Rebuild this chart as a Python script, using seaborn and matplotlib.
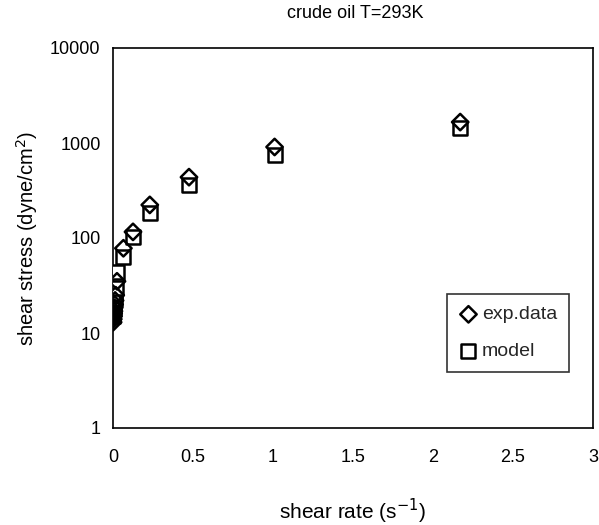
import matplotlib
matplotlib.use("Agg")
import matplotlib.pyplot as plt
import seaborn as sns
import pandas as pd
from matplotlib.ticker import FixedLocator, NullLocator, FuncFormatter

sns.set_theme(style="white")
plt.rcParams["font.family"] = ["Liberation Sans", "DejaVu Sans"]

# shear rate (1/s) and shear stress (dyne/cm^2) for crude oil at 293 K
shear_rate = [0.001, 0.002, 0.003, 0.004, 0.006, 0.008, 0.010, 0.013, 0.017,
              0.025, 0.065, 0.125, 0.23, 0.475, 1.01, 2.17]
stress_exp = [13, 14, 15, 16, 17, 18.5, 20, 22, 25,
              35, 78, 116, 223, 437, 908, 1660]
stress_model = [15, 16, 17, 18, 19.5, 21, 23, 26, 30,
                44, 63, 102, 183, 362, 750, 1440]

df_exp = pd.DataFrame({"rate": shear_rate, "stress": stress_exp})
df_mod = pd.DataFrame({"rate": shear_rate, "stress": stress_model})

fig = plt.figure(figsize=(5.99, 5.25), dpi=100)
ax = fig.add_axes([113 / 599, 1 - 428 / 525, 480 / 599, 380 / 525])

sns.scatterplot(data=df_mod, x="rate", y="stress", ax=ax, marker="s", s=90,
                facecolor="white", edgecolor="black", linewidth=1.8,
                label="model", zorder=3)
sns.scatterplot(data=df_exp, x="rate", y="stress", ax=ax, marker="D", s=70,
                facecolor="none", edgecolor="black", linewidth=1.8,
                label="exp.data", zorder=4)

ax.set_yscale("log")
ax.set_xlim(0, 3)
ax.set_ylim(1, 10000)
ax.xaxis.set_major_locator(FixedLocator([0, 0.5, 1, 1.5, 2, 2.5, 3]))
ax.xaxis.set_major_formatter(FuncFormatter(lambda v, p: f"{v:g}"))
ax.yaxis.set_major_locator(FixedLocator([1, 10, 100, 1000, 10000]))
ax.yaxis.set_minor_locator(NullLocator())
ax.yaxis.set_major_formatter(FuncFormatter(lambda v, p: f"{v:g}"))

for s in ax.spines.values():
    s.set_color("black")
    s.set_linewidth(1.2)
ax.tick_params(axis="both", which="major", direction="out", length=6,
               width=1.2, color="black", labelsize=13, labelcolor="black")
ax.tick_params(axis="x", pad=9)
ax.tick_params(axis="y", pad=3)

ax.set_xlabel("shear rate (s$^{-1}$)", fontsize=15, color="black", labelpad=22)
ax.set_ylabel("shear stress (dyne/cm$^{2}$)", fontsize=14.5, color="black", labelpad=7)
fig.text(355 / 599, 1 - 13 / 525, "crude oil T=293K", ha="center", va="center",
         fontsize=13, color="black")

handles, labels = ax.get_legend_handles_labels()
order = [labels.index("exp.data"), labels.index("model")]
leg = ax.legend([handles[i] for i in order], [labels[i] for i in order],
                loc="lower left", bbox_to_anchor=(0.696, 0.147), fontsize=14,
                frameon=True, fancybox=False, edgecolor="black",
                borderpad=0.6, labelspacing=1.0, handletextpad=0.2,
                handlelength=1.0, borderaxespad=0)
leg.get_frame().set_linewidth(1.2)

fig.savefig("out.png", dpi=100)
